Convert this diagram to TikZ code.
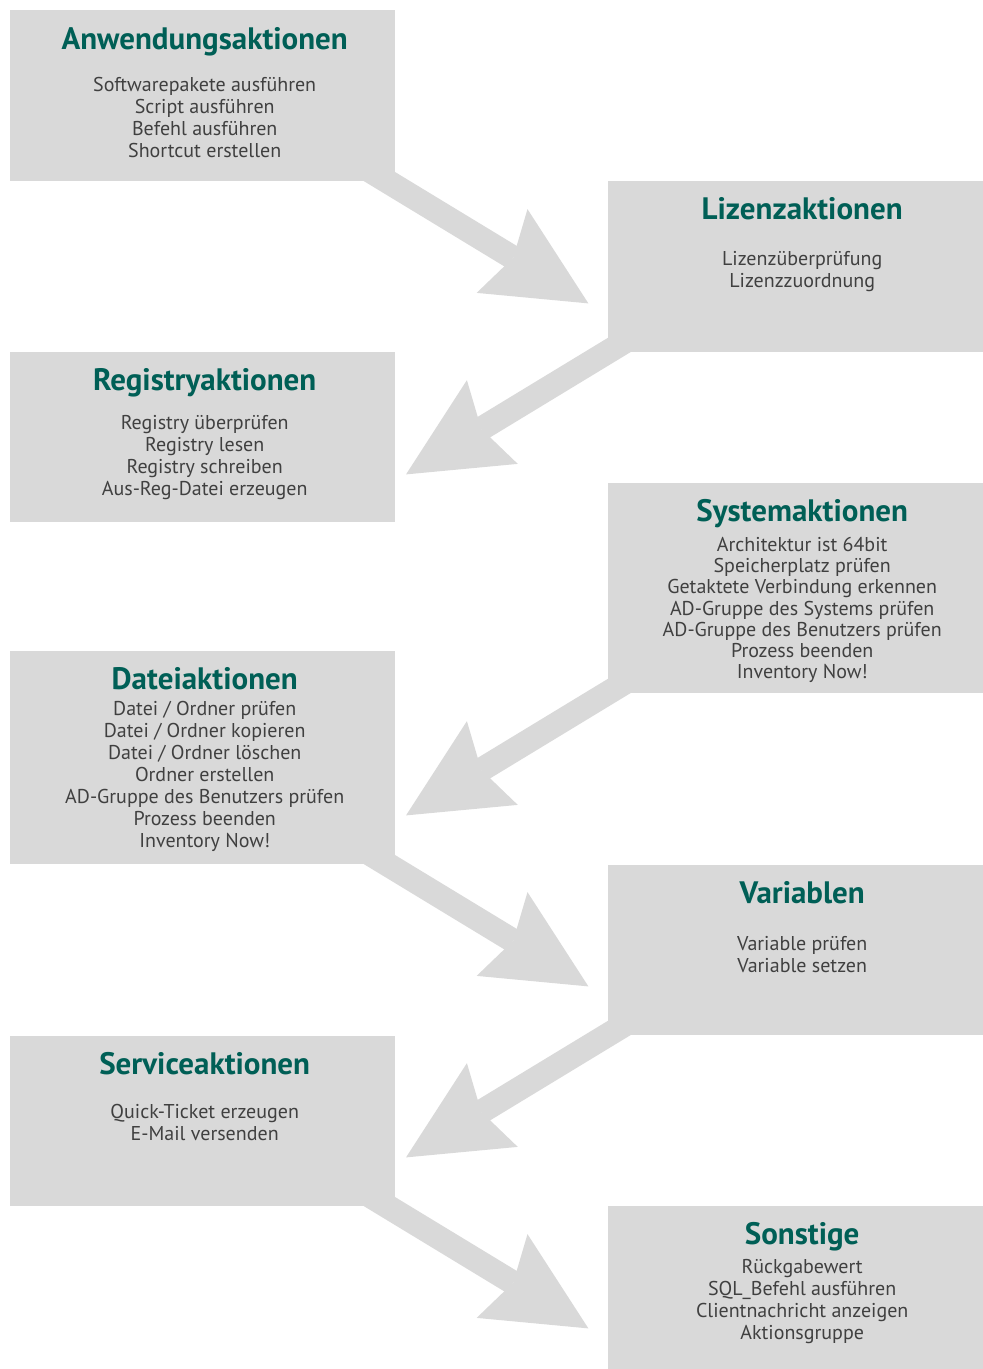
\documentclass[tikz,border=0pt]{standalone}
\usepackage{fontspec}
\setmainfont{PT Sans}
\usetikzlibrary{positioning,arrows.meta}
\definecolor{kasten}{HTML}{D9D9D9}
\definecolor{petrol}{HTML}{005F56}
\definecolor{schrift}{HTML}{404040}

\begin{document}
\begin{tikzpicture}[x=1pt, y=-1pt,
    kl/.style={fill=kasten, anchor=north west, minimum width=385pt, inner sep=0pt},
    kr/.style={kl, minimum width=375pt},
    titel/.style={font=\fontsize{31}{36}\selectfont\bfseries, text=petrol,
                  anchor=base, inner sep=0pt},
    liste/.style={font=\fontsize{20}{22}\selectfont, text=schrift, align=center,
                  anchor=base, inner sep=0pt},
    pfeil/.style={draw=kasten, line width=24pt,
                  -{Stealth[length=101pt, width=98pt, inset=13pt, line width=0pt]}},
  ]
  \useasboundingbox (0,0) rectangle (983,1369);

  % --- linke Spalte (Anker der Liste: Grundlinie der letzten Zeile) ---
  \node[kl, minimum height=171pt] (anw) at (10,10) {};
  \node[titel] (anwT) at ([xshift=2pt, yshift=-39pt]anw.north) {Anwendungsaktionen};
  \node[liste] (anwL) at ([xshift=2pt, yshift=-147pt]anw.north)
    {Softwarepakete ausführen\\Script ausführen\\Befehl ausführen\\Shortcut erstellen};

  \node[kl, minimum height=170pt] (reg) at (10,352) {};
  \node[titel] (regT) at ([xshift=2pt, yshift=-38pt]reg.north) {Registryaktionen};
  \node[liste] (regL) at ([xshift=2pt, yshift=-143.5pt]reg.north)
    {Registry überprüfen\\Registry lesen\\Registry schreiben\\Aus-Reg-Datei erzeugen};

  \node[kl, minimum height=213pt] (dat) at (10,651) {};
  \node[titel] (datT) at ([xshift=2pt, yshift=-38pt]dat.north) {Dateiaktionen};
  \node[liste] (datL) at ([xshift=2pt, yshift=-196.5pt]dat.north)
    {Datei / Ordner prüfen\\Datei / Ordner kopieren\\Datei / Ordner löschen\\Ordner erstellen\\
     AD-Gruppe des Benutzers prüfen\\Prozess beenden\\Inventory Now!};

  \node[kl, minimum height=170pt] (ser) at (10,1036) {};
  \node[titel] (serT) at ([xshift=2pt, yshift=-38pt]ser.north) {Serviceaktionen};
  \node[liste] (serL) at ([xshift=2pt, yshift=-104.5pt]ser.north)
    {Quick-Ticket erzeugen\\E-Mail versenden};

  % --- rechte Spalte ---
  \node[kr, minimum height=171pt] (liz) at (608,181) {};
  \node[titel] (lizT) at ([xshift=6.5pt, yshift=-38pt]liz.north) {Lizenzaktionen};
  \node[liste] (lizL) at ([xshift=6.5pt, yshift=-106.5pt]liz.north)
    {Lizenzüberprüfung\\Lizenzzuordnung};

  \node[kr, minimum height=210pt] (sys) at (608,483) {};
  \node[titel] (sysT) at ([xshift=6.5pt, yshift=-38pt]sys.north) {Systemaktionen};
  \node[liste, font=\fontsize{20}{21.2}\selectfont] (sysL) at ([xshift=6.5pt, yshift=-195.7pt]sys.north)
    {Architektur ist 64bit\\Speicherplatz prüfen\\Getaktete Verbindung erkennen\\
     AD-Gruppe des Systems prüfen\\AD-Gruppe des Benutzers prüfen\\Prozess beenden\\Inventory Now!};

  \node[kr, minimum height=170pt] (var) at (608,865) {};
  \node[titel] (varT) at ([xshift=6.5pt, yshift=-38pt]var.north) {Variablen};
  \node[liste] (varL) at ([xshift=6.5pt, yshift=-107.5pt]var.north)
    {Variable prüfen\\Variable setzen};

  \node[kr, minimum height=163pt] (son) at (608,1206) {};
  \node[titel] (sonT) at ([xshift=6.5pt, yshift=-38pt]son.north) {Sonstige};
  \node[liste] (sonL) at ([xshift=6.5pt, yshift=-133.5pt]son.north)
    {Rückgabewert\\SQL\_Befehl ausführen\\Clientnachricht anzeigen\\Aktionsgruppe};

  % --- Pfeile ---
  \draw[pfeil] ([shift={(-63.5,-33.7)}]anw.south east) -- ++(256.5,155.7);
  \draw[pfeil] ([shift={(54.5,-33.7)}]liz.south west) -- ++(-256.5,155.7);
  \draw[pfeil] ([shift={(54.5,-33.7)}]sys.south west) -- ++(-256.5,155.7);
  \draw[pfeil] ([shift={(-63.5,-33.7)}]dat.south east) -- ++(256.5,155.7);
  \draw[pfeil] ([shift={(54.5,-33.7)}]var.south west) -- ++(-256.5,155.7);
  \draw[pfeil] ([shift={(-63.5,-33.7)}]ser.south east) -- ++(256.5,155.7);
\end{tikzpicture}
\end{document}
